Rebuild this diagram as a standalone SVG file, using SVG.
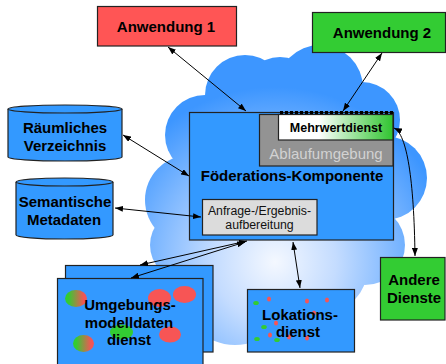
<svg xmlns="http://www.w3.org/2000/svg" width="446" height="364" viewBox="0 0 446 364">
<defs>
<radialGradient id="cg" gradientUnits="userSpaceOnUse" cx="275" cy="262" r="175">
<stop offset="0" stop-color="#f4f8ff"/>
<stop offset="0.35" stop-color="#c4dcff"/>
<stop offset="1" stop-color="#3d96ff"/>
</radialGradient>
<linearGradient id="mg" x1="0" y1="0" x2="1" y2="0">
<stop offset="0" stop-color="#ffffff"/>
<stop offset="0.35" stop-color="#ffffff"/>
<stop offset="1" stop-color="#2fc42f"/>
</linearGradient>
<linearGradient id="gr" x1="0" y1="0" x2="1" y2="0">
<stop offset="0.15" stop-color="#33cc33"/>
<stop offset="0.85" stop-color="#f25555"/>
</linearGradient>
<marker id="ah" viewBox="0 0 8 6" refX="8" refY="3" markerWidth="8" markerHeight="6" markerUnits="userSpaceOnUse" orient="auto-start-reverse">
<path d="M0,0 L8,3 L0,6 z" fill="#000"/>
</marker>
</defs>
<style>
.bx{stroke:#222;stroke-width:1.2}
.blue{fill:#3399ff}
.t{font-family:"Liberation Sans",Arial,sans-serif;font-weight:bold;font-size:15px;fill:#000;text-anchor:middle}
.s{font-size:12.5px}
.r{font-family:"Liberation Sans",Arial,sans-serif;text-anchor:middle}
.c{fill:none;stroke:#000;stroke-width:1;marker-start:url(#ah);marker-end:url(#ah)}
</style>
<rect width="446" height="364" fill="#fff"/>
<g id="cloud" fill="url(#cg)">
<circle cx="205" cy="135" r="40"/>
<circle cx="245" cy="95" r="40"/>
<circle cx="280" cy="95" r="38"/>
<circle cx="320" cy="88" r="43"/>
<circle cx="362" cy="120" r="38"/>
<circle cx="385" cy="178" r="42"/>
<circle cx="365" cy="245" r="40"/>
<circle cx="325" cy="270" r="42"/>
<circle cx="235" cy="290" r="55"/>
<circle cx="190" cy="200" r="45"/>
<circle cx="185" cy="245" r="35"/>
<ellipse cx="285" cy="190" rx="110" ry="105"/>
</g>
<g id="anwendung1">
<rect class="bx" x="97.5" y="6.5" width="139" height="39.5" fill="#ff5555"/>
<text class="t" x="166" y="32">Anwendung 1</text>
</g>
<g id="anwendung2">
<rect class="bx" x="312.5" y="12.5" width="133" height="40" fill="#33cc33"/>
<text class="t" x="382" y="38">Anwendung 2</text>
</g>
<g id="raeumliches">
<path class="bx blue" d="M8,109 L8,157 A57,4 0 0 0 122,157 L122,109"/>
<ellipse class="bx blue" cx="65" cy="109" rx="57" ry="4"/>
<text class="t" x="65" y="133">Räumliches</text>
<text class="t" x="65" y="151">Verzeichnis</text>
</g>
<g id="semantische">
<path class="bx blue" d="M16,182 L16,235 A48.5,4 0 0 0 113,235 L113,182"/>
<ellipse class="bx blue" cx="64.5" cy="182" rx="48.5" ry="4"/>
<text class="t" x="65" y="207">Semantische</text>
<text class="t" x="64" y="225">Metadaten</text>
</g>
<g id="foederation">
<rect class="bx blue" x="189.5" y="112.5" width="204" height="127.5"/>
<text class="t" x="292" y="181">Föderations-Komponente</text>
</g>
<g id="ablaufumgebung">
<rect class="bx" x="259.5" y="114.5" width="133.5" height="51.5" fill="#939393"/>
<text class="r" x="326" y="159" font-size="15" fill="#d2d2d2">Ablaufumgebung</text>
</g>
<g id="mehrwertdienst">
<rect class="bx" x="278.5" y="114.5" width="114.5" height="25.5" fill="url(#mg)"/>
<line x1="280" y1="112.5" x2="393" y2="112.5" stroke="#000" stroke-width="3" stroke-dasharray="3 2"/>
<text class="t s" x="336" y="132">Mehrwertdienst</text>
</g>
<g id="anfrage">
<rect class="bx" x="202.5" y="199.5" width="114.5" height="35.5" fill="#dcdcdc"/>
<text class="r" x="259.5" y="215" font-size="12.3" fill="#111">Anfrage-/Ergebnis-</text>
<text class="r" x="259.5" y="229" font-size="12.3" fill="#111">aufbereitung</text>
</g>
<g id="umgebung">
<rect class="bx blue" x="65.5" y="265.5" width="147.5" height="86.5"/>
<rect class="bx blue" x="57.5" y="278.5" width="145.5" height="95"/>
<ellipse cx="76" cy="298.5" rx="11" ry="8.5" fill="url(#gr)"/>
<ellipse cx="83.5" cy="343.5" rx="10.5" ry="8.5" fill="url(#gr)"/>
<ellipse cx="121.5" cy="332" rx="11.5" ry="7.5" fill="#33cc33"/>
<ellipse cx="159.5" cy="298" rx="11.5" ry="9" fill="#f75555"/>
<ellipse cx="184.5" cy="294.5" rx="11.5" ry="8.5" fill="#f75555"/>
<ellipse cx="170" cy="334.5" rx="11" ry="8" fill="#f75555"/>
<text class="t" x="130" y="310">Umgebungs-</text>
<text class="t" x="129" y="328">modelldaten</text>
<text class="t" x="129" y="345">dienst</text>
</g>
<g id="lokation">
<rect class="bx blue" x="247.5" y="289.5" width="107" height="62.5"/>
<g fill="#33cc33">
<ellipse cx="256" cy="303" rx="2.8" ry="2"/>
<ellipse cx="264" cy="327" rx="2.8" ry="2"/>
<ellipse cx="257" cy="339" rx="2.8" ry="2"/>
<ellipse cx="277" cy="340" rx="2.8" ry="2"/>
</g>
<g fill="#f75555">
<ellipse cx="269" cy="299" rx="2" ry="2.5"/>
<ellipse cx="307" cy="301" rx="2" ry="2.5"/>
<ellipse cx="327" cy="300" rx="2" ry="2.5"/>
<ellipse cx="314" cy="313" rx="2" ry="2.5"/>
<ellipse cx="276" cy="323" rx="2" ry="2.5"/>
<ellipse cx="270" cy="335" rx="2" ry="2.5"/>
<ellipse cx="289" cy="337" rx="2" ry="2.5"/>
<ellipse cx="307" cy="338" rx="2" ry="2.5"/>
</g>
<text class="t" x="300" y="320">Lokations-</text>
<text class="t" x="298" y="337">dienst</text>
</g>
<g id="andere">
<rect class="bx" x="380.5" y="257.5" width="64.5" height="62.5" fill="#33cc33"/>
<text class="t" x="414" y="285">Andere</text>
<text class="t" x="414" y="303">Dienste</text>
</g>
<g id="connectors">
<line class="c" x1="168" y1="47" x2="246" y2="111"/>
<line class="c" x1="382" y1="53" x2="343" y2="111"/>
<line class="c" x1="123" y1="135" x2="189" y2="176"/>
<line class="c" x1="115" y1="208" x2="201" y2="217"/>
<line class="c" x1="247" y1="241" x2="140" y2="265"/>
<line class="c" x1="245" y1="242" x2="131" y2="278"/>
<line class="c" x1="293" y1="242" x2="300" y2="288"/>
<path class="c" d="M394,128 C407,134 414,180 415,256"/>
</g>
</svg>
